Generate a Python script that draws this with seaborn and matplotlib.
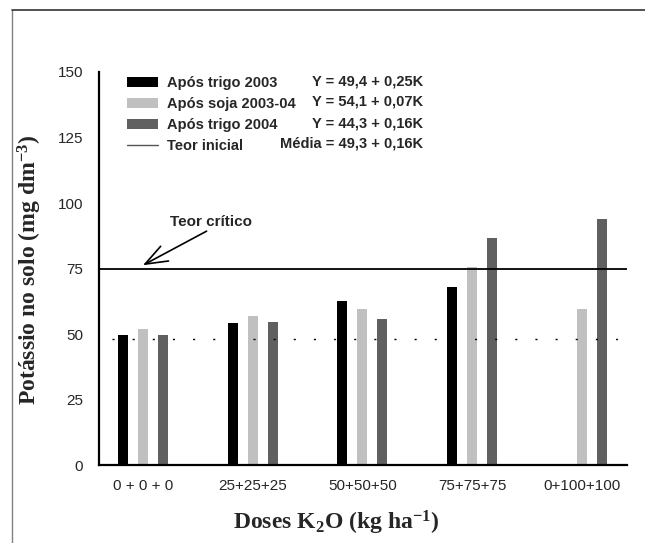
import numpy as np
import pandas as pd
import matplotlib
matplotlib.use("Agg")
import matplotlib.pyplot as plt
from matplotlib.lines import Line2D
import seaborn as sns

# data
doses = ["0 + 0 + 0", "25+25+25", "50+50+50", "75+75+75", "0+100+100"]
trigo_2003 = [49.8, 54.1, 62.6, 67.9, np.nan]
soja_2003_04 = [51.8, 57.1, 59.7, 75.8, 59.8]
trigo_2004 = [49.8, 54.5, 55.7, 86.5, 93.9]
series_names = ["Após trigo 2003", "Após soja 2003-04", "Após trigo 2004"]
equations = ["Y = 49,4 + 0,25K", "Y = 54,1 + 0,07K", "Y = 44,3 + 0,16K", "Média = 49,3 + 0,16K"]
teor_critico = 75
teor_inicial = 48.2
y_ticks = [0, 25, 50, 75, 100, 125, 150]

colors = ["#000000", "#c0c0c0", "#606060"]

df = pd.DataFrame({
    "dose": doses * 3,
    "serie": [s for s in series_names for _ in doses],
    "valor": trigo_2003 + soja_2003_04 + trigo_2004,
})

sns.set_style("white")
plt.rcParams["font.family"] = ["Liberation Sans", "DejaVu Sans"]
plt.rcParams["mathtext.fontset"] = "custom"
plt.rcParams["mathtext.rm"] = "Liberation Serif:bold"
plt.rcParams["mathtext.bf"] = "Liberation Serif:bold"
plt.rcParams["mathtext.it"] = "Liberation Serif:bold"

fig = plt.figure(figsize=(6.45, 5.43), dpi=100)
ax = fig.add_axes([99 / 645, 1 - 465.3 / 543, 528 / 645, 393.3 / 543])

sns.barplot(data=df, x="dose", y="valor", hue="serie", order=doses,
            hue_order=series_names, palette=colors, width=0.546, gap=0.5,
            saturation=1, edgecolor="none", ax=ax)

# reference lines
ax.axhline(teor_critico, color="black", lw=1.3, zorder=3)
ax.plot([-0.28, 4.41], [teor_inicial, teor_inicial], color="black", lw=1,
        linestyle=(0, (1.5, 13)), zorder=3)

ax.annotate("", xy=(0, 76.3), xytext=(0.58, 89.3),
            arrowprops=dict(arrowstyle="->, head_length=0.8, head_width=0.3",
                            lw=1.2, color="black", mutation_scale=20,
                            shrinkA=0, shrinkB=0))
ax.text(0.62, 92.7, "Teor crítico", ha="center", va="center",
        fontsize=11, fontweight="bold")

ax.set_xlim(-0.40, 4.41)
ax.set_ylim(0, 150)
ax.set_yticks(y_ticks)
ax.tick_params(axis="y", direction="out", length=5, width=1.2, pad=6.5, labelsize=11)
ax.tick_params(axis="x", direction="out", length=5, width=1.2, pad=5, labelsize=11)
sns.despine(ax=ax)
for s in ["left", "bottom"]:
    ax.spines[s].set_linewidth(1.6)
    ax.spines[s].set_color("black")

ax.set_xlabel(r"Doses K$_{2}$O (kg ha$^{-1}$)", fontsize=17,
              fontweight="bold", family="Liberation Serif")
ax.xaxis.label.set_va("center")
ax.xaxis.set_label_coords(0.449, -0.147)
ax.set_ylabel(r"Potássio no solo (mg dm$^{-3}$)", fontsize=17,
              fontweight="bold", family="Liberation Serif")
ax.yaxis.label.set_va("center")
ax.yaxis.set_label_coords(-0.131, 0.497)

# legend
handles, labels = ax.get_legend_handles_labels()
handles = handles + [Line2D([], [], color="#555555", lw=1)]
labels = labels + ["Teor inicial"]
ax.legend(handles, labels, loc="upper left", bbox_to_anchor=(127 / 645, 1 - 76 / 543),
          bbox_transform=fig.transFigure, frameon=False, borderpad=0,
          borderaxespad=0, handlelength=2.12, handleheight=0.69,
          handletextpad=0.62, labelspacing=0.48,
          prop={"weight": "bold", "size": 10.5, "family": "Liberation Sans"})

row_y = [81, 102, 123, 143]
for eq, yy in zip(equations, row_y):
    fig.text(423 / 645, 1 - yy / 543, eq, ha="right", va="center",
             fontsize=10.5, fontweight="bold")

# frame around the figure
fig.add_artist(Line2D([12 / 645, 12 / 645], [0, 1 - 10 / 543], color="#808080", lw=1))
fig.add_artist(Line2D([12 / 645, 1], [1 - 10 / 543, 1 - 10 / 543], color="#333333", lw=1.2))

fig.savefig("out.png", dpi=100)
